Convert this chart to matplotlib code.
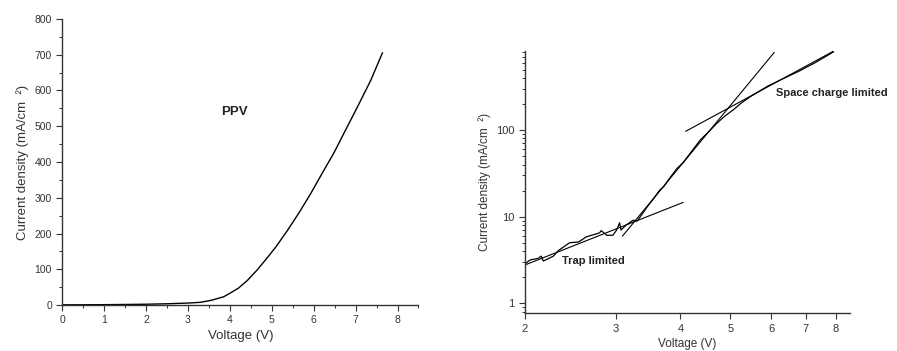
import numpy as np
import matplotlib
matplotlib.use("Agg")
import matplotlib.pyplot as plt
from matplotlib.ticker import MultipleLocator, FixedLocator, NullFormatter, LogLocator

plt.rcParams['font.family'] = ['Liberation Sans', 'DejaVu Sans']

# left panel: J-V curve of PPV (linear)
v_lin = [0.0, 0.5, 1.0, 1.5, 2.0, 2.5, 3.0, 3.29, 3.55, 3.85, 4.0, 4.2, 4.41,
         4.65, 4.89, 5.1, 5.37, 5.65, 5.93, 6.2, 6.48, 6.75, 7.04, 7.36, 7.64]
j_lin = [0.5, 0.7, 1.0, 1.5, 2.2, 3.5, 5.5, 7.5, 13, 23, 33, 47, 68,
         98, 132, 163, 208, 258, 312, 368, 425, 487, 553, 628, 705]

# right panel: same data on log-log axes
v_log = [2.0, 2.045, 2.12, 2.15, 2.17, 2.27, 2.32, 2.44, 2.54, 2.63, 2.79, 2.81,
         2.88, 2.96, 3.01, 3.05, 3.07, 3.14, 3.24, 3.30, 3.47, 3.56, 3.65, 3.72,
         3.80, 3.94, 4.05, 4.20, 4.37, 4.55, 4.71, 4.88, 5.07, 5.25, 5.46, 5.9,
         6.34, 6.8, 7.3, 7.92]
j_log = [2.85, 3.16, 3.3, 3.5, 3.07, 3.5, 4.05, 5.0, 5.1, 5.85, 6.5, 6.9,
         6.1, 6.1, 7.0, 8.5, 7.0, 8.0, 9.1, 8.9, 13.6, 16.5, 20.3, 22.5,
         27, 36, 42, 56, 76.5, 97, 120, 145, 172, 205, 242, 320,
         394, 480, 600, 798]

# fitted power-law segments (endpoints)
trap_v = [2.0, 4.05]
trap_j = [2.77, 14.6]
steep_v = [3.09, 6.08]
steep_j = [5.97, 785]
scl_v = [4.10, 7.92]
scl_j = [97, 813]

spine_col = '#333333'

fig = plt.figure(figsize=(8.97, 3.51), dpi=100)

# ---- left
ax1 = fig.add_axes([0.0695, 0.131, 0.397, 0.815])
ax1.plot(v_lin, j_lin, color='black', lw=1.0)
ax1.set_xlim(0, 8.5)
ax1.set_ylim(0, 800)
ax1.xaxis.set_major_locator(MultipleLocator(1))
ax1.xaxis.set_minor_locator(MultipleLocator(0.5))
ax1.yaxis.set_major_locator(MultipleLocator(100))
ax1.yaxis.set_minor_locator(MultipleLocator(50))
ax1.set_xlabel('Voltage (V)', fontsize=9.5, color='#333333', labelpad=3)
ax1.set_ylabel('Current density (mA/cm  \u00b2)', fontsize=9.5, color='#333333', labelpad=4)
ax1.text(4.1, 539, 'PPV', fontsize=9.5, fontweight='bold', ha='center', va='center',
         color='#222222')

# ---- right
ax2 = fig.add_axes([0.5853, 0.108, 0.3623, 0.746])
ax2.plot(v_log, j_log, color='black', lw=0.9)
ax2.plot(trap_v, trap_j, color='black', lw=0.8)
ax2.plot(steep_v, steep_j, color='black', lw=0.8)
ax2.plot(scl_v, scl_j, color='black', lw=0.8)
ax2.set_xscale('log')
ax2.set_yscale('log')
ax2.set_xlim(2, 8.53)
ax2.set_ylim(0.77, 813)
ax2.xaxis.set_major_locator(FixedLocator([2, 3, 4, 5, 6, 7, 8]))
ax2.xaxis.set_major_formatter(plt.FuncFormatter(lambda x, p: '%d' % round(x)))
ax2.xaxis.set_minor_formatter(NullFormatter())
ax2.xaxis.set_minor_locator(FixedLocator([]))
ax2.yaxis.set_major_locator(FixedLocator([1, 10, 100]))
ax2.yaxis.set_major_formatter(plt.FuncFormatter(lambda y, p: '%d' % round(y)))
ax2.yaxis.set_minor_locator(LogLocator(base=10, subs=np.arange(2, 10)))
ax2.yaxis.set_minor_formatter(NullFormatter())
ax2.set_xlabel('Voltage (V)', fontsize=8.5, color='#333333', labelpad=3)
ax2.set_ylabel('Current density (mA/cm  \u00b2)', fontsize=8.5, color='#333333', labelpad=4)
ax2.text(2.36, 3.1, 'Trap limited', fontsize=8, fontweight='bold', ha='left', va='center',
         color='#222222')
ax2.text(6.12, 269, 'Space charge limited', fontsize=8, fontweight='bold', ha='left',
         va='center', color='#222222')

for ax, fs in ((ax1, 7.5), (ax2, 8)):
    for s in ('top', 'right'):
        ax.spines[s].set_visible(False)
    for s in ('left', 'bottom'):
        ax.spines[s].set_color(spine_col)
        ax.spines[s].set_linewidth(1.0)
    ax.tick_params(which='major', direction='out', length=4, width=0.8,
                   colors=spine_col, labelsize=fs, labelcolor='#333333')
    ax.tick_params(which='minor', direction='out', length=2.5, width=0.7, colors=spine_col)

fig.savefig('out.png', dpi=100)
